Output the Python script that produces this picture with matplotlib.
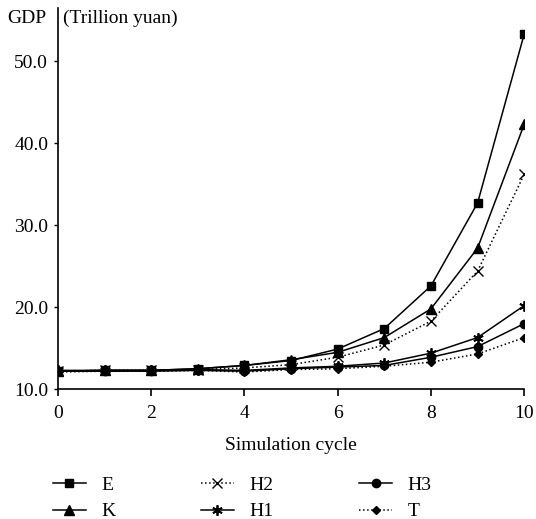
import numpy as np
import matplotlib
matplotlib.use('Agg')
import matplotlib.pyplot as plt

plt.rcParams['font.family'] = 'Liberation Serif'
plt.rcParams['font.size'] = 14

cycles = np.arange(11)
gdp_E = [12.2, 12.3, 12.3, 12.5, 12.9, 13.5, 14.9, 17.4, 22.6, 32.7, 53.3]
gdp_K = [12.2, 12.3, 12.3, 12.5, 12.9, 13.6, 14.5, 16.3, 19.8, 27.2, 42.3]
gdp_H2 = [12.2, 12.3, 12.3, 12.4, 12.6, 13.0, 13.9, 15.4, 18.3, 24.4, 36.2]
gdp_H1 = [12.3, 12.3, 12.3, 12.4, 12.3, 12.6, 12.8, 13.2, 14.4, 16.3, 20.2]
gdp_H3 = [12.2, 12.2, 12.2, 12.3, 12.2, 12.5, 12.7, 12.9, 13.9, 15.2, 18.0]
gdp_T = [12.1, 12.2, 12.2, 12.3, 12.1, 12.4, 12.5, 12.8, 13.3, 14.3, 16.3]

fig = plt.figure(figsize=(5.36, 5.19), dpi=100)
ax = fig.add_axes([0.108, 0.25, 0.870, 0.735])

lw = 1.1
ax.plot(cycles, gdp_E, '-', color='black', lw=lw, marker='s', ms=5.5, label='E')
ax.plot(cycles, gdp_K, '-', color='black', lw=lw, marker='^', ms=6.5, label='K')
ax.plot(cycles, gdp_H2, ':', color='black', lw=lw, marker='x', ms=6.5, mew=1.0, label='H2')
ax.plot(cycles, gdp_H1, '-', color='black', lw=lw, marker=(6, 2, 0), ms=7.5, mew=1.3, label='H1')
ax.plot(cycles, gdp_H3, '-', color='black', lw=lw, marker='o', ms=6, label='H3')
ax.plot(cycles, gdp_T, ':', color='black', lw=lw, marker='D', ms=4.2, label='T')

ax.set_xlim(0, 10)
ax.set_ylim(10, 56.5)
ax.set_xticks(np.arange(0, 11, 2))
ax.set_yticks([10, 20, 30, 40, 50])
ax.set_yticklabels(['{:.1f}'.format(v) for v in [10, 20, 30, 40, 50]])
ax.spines['top'].set_visible(False)
ax.spines['right'].set_visible(False)
ax.spines['left'].set_linewidth(1.2)
ax.spines['bottom'].set_linewidth(1.2)
ax.spines['bottom'].set_bounds(0, 10)
ax.tick_params(axis='x', direction='out', length=5, width=1.2, pad=6)
ax.tick_params(axis='y', direction='out', length=3, width=1.0, pad=4)
ax.set_xlabel('Simulation cycle', labelpad=11)

fig.text(0.014, 0.964, 'GDP', ha='left', va='center')
fig.text(0.118, 0.964, '(Trillion yuan)', ha='left', va='center')

fig.legend(*ax.get_legend_handles_labels(), loc='upper left',
           bbox_to_anchor=(0.098, 0.082), ncol=3, frameon=False,
           borderpad=0, borderaxespad=0, handlelength=1.7,
           columnspacing=4.4, labelspacing=0.45, handletextpad=0.8)

fig.savefig('out.png', dpi=100)
